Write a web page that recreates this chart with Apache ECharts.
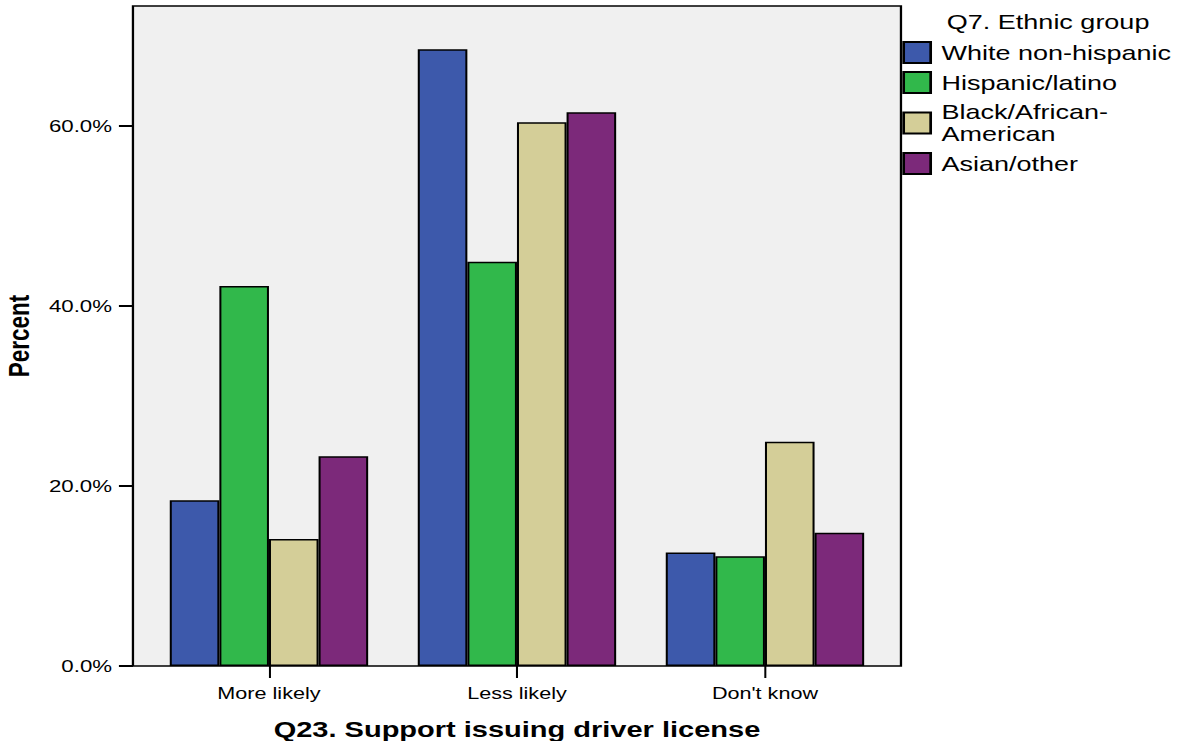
<!DOCTYPE html>
<html>
<head>
<meta charset="utf-8">
<script src="https://cdn.jsdelivr.net/npm/echarts@6/dist/echarts.min.js"></script>
<style>
  html, body { margin: 0; padding: 0; background: #fff; overflow: hidden; }
  #main { width: 872px; height: 742px; transform: scaleX(1.34977); transform-origin: 0 0; }
</style>
</head>
<body>
<div id="main"></div>
<script>
// ---- data ----
const categories = ['More likely', 'Less likely', "Don't know"];
const seriesNames = ['White non-hispanic', 'Hispanic/latino', 'Black/African-\nAmerican', 'Asian/other'];
const whiteVals = [18.4, 68.5, 12.6];
const hispanicVals = [42.2, 44.9, 12.2];
const blackVals = [14.1, 60.4, 24.9];
const asianVals = [23.3, 61.5, 14.8];
const yTicks = [0, 20, 40, 60];
const colors = ['#3d59ab', '#31b84b', '#d4ce98', '#7c297a'];

const FONT = "'Liberation Sans', Arial, Helvetica, sans-serif";
const allVals = [whiteVals, hispanicVals, blackVals, asianVals];

const chart = echarts.init(document.getElementById('main'), null, { renderer: 'svg' });

const series = seriesNames.map((name, i) => ({
  name: name,
  type: 'bar',
  xAxisIndex: 0,
  yAxisIndex: 0,
  data: allVals[i],
  barGap: '0%',
  barCategoryGap: '20%',
  itemStyle: { color: colors[i], borderColor: '#000', borderWidth: 1.5 },
  emphasis: { disabled: true }
}));

chart.setOption({
  animation: false,
  textStyle: { fontFamily: FONT },
  title: {
    text: 'Q7. Ethnic group',
    left: 701.5,
    top: 12,
    padding: 0,
    textStyle: { fontFamily: FONT, fontSize: 20, fontWeight: 'normal', color: '#000' }
  },
  legend: {
    data: seriesNames,
    orient: 'vertical',
    left: 668.5,
    top: 41,
    padding: 0,
    itemWidth: 20,
    itemHeight: 21,
    itemGap: 7,
    icon: 'rect',
    selectedMode: false,
    textStyle: { fontFamily: FONT, fontSize: 20, lineHeight: 22, color: '#000', padding: [0, 0, 0, 3] }
  },
  grid: [
    { left: 107.4, right: 213.4, top: 6, bottom: 76, show: false, outerBoundsMode: 'none', containLabel: false },
    { left: 98.5, right: 204.5, top: 6, bottom: 76, show: true, backgroundColor: '#f0f0f0', borderColor: '#000', borderWidth: 1.7, z: -1, outerBoundsMode: 'none', containLabel: false }
  ],
  xAxis: [
    {
      type: 'category',
      gridIndex: 0,
      data: categories,
      boundaryGap: true,
      axisLine: { show: false },
      axisTick: { show: true, alignWithLabel: true, length: 12, lineStyle: { color: '#000', width: 1.5 } },
      axisLabel: { margin: 20, fontSize: 16, color: '#000', fontFamily: FONT },
      name: 'Q23. Support issuing driver license',
      nameLocation: 'middle',
      nameGap: 52,
      nameTextStyle: { fontFamily: FONT, fontSize: 21.5, fontWeight: 'bold', color: '#000' }
    },
    { type: 'category', gridIndex: 1, data: categories, show: false }
  ],
  yAxis: [
    {
      type: 'value',
      gridIndex: 0,
      min: 0,
      max: 73.3,
      interval: 20,
      offset: 8.9,
      splitLine: { show: false },
      axisLine: { show: false },
      axisTick: { show: true, length: 10.4, customValues: yTicks, lineStyle: { color: '#000', width: 2 } },
      axisLabel: { margin: 15.5, fontSize: 16.5, color: '#000', fontFamily: FONT, customValues: yTicks,
        formatter: v => v.toFixed(1) + '%' },
      name: 'Percent',
      nameLocation: 'middle',
      nameGap: 73,
      nameTextStyle: { fontFamily: FONT, fontSize: 22.5, fontWeight: 'bold', color: '#000' }
    },
    { type: 'value', gridIndex: 1, min: 0, max: 73.3, show: false }
  ],
  series: series
});
</script>
</body>
</html>
